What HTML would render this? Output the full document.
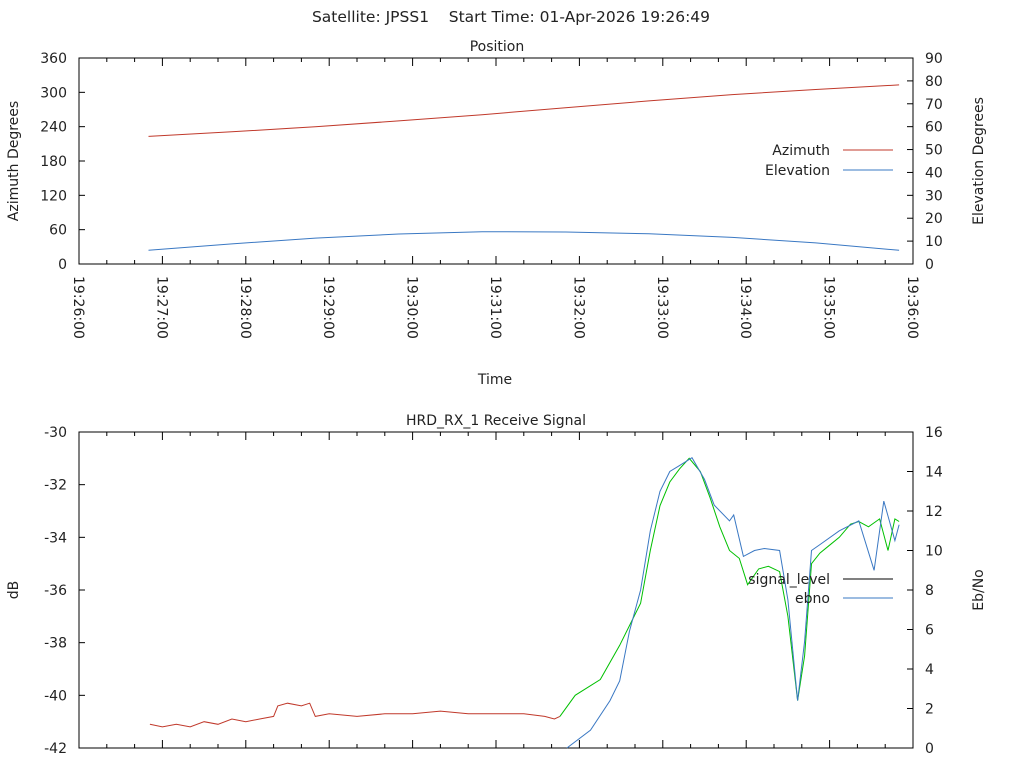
<!DOCTYPE html>
<html><head><meta charset="utf-8"><style>
html,body{margin:0;padding:0;background:#fff;}
svg{display:block;font-family:"DejaVu Sans","Liberation Sans",sans-serif;font-size:14px;fill:#222;}
</style></head><body>
<svg id="c" width="1024" height="768" viewBox="0 0 1024 768">
<text x="511" y="22" text-anchor="middle" style="font-size:15.5px" xml:space="preserve">Satellite: JPSS1    Start Time: 01-Apr-2026 19:26:49</text>
<text x="497" y="51" text-anchor="middle">Position</text>
<text x="496" y="425" text-anchor="middle">HRD_RX_1 Receive Signal</text>
<text x="495" y="384" text-anchor="middle">Time</text>
<text transform="translate(18,161) rotate(-90)" text-anchor="middle">Azimuth Degrees</text>
<text transform="translate(983,161) rotate(-90)" text-anchor="middle">Elevation Degrees</text>
<text transform="translate(18,590) rotate(-90)" text-anchor="middle">dB</text>
<text transform="translate(983,590) rotate(-90)" text-anchor="middle">Eb/No</text>
<g id="g"></g>
</svg>
<script>
const xTickLabels=["19:26:00","19:27:00","19:28:00","19:29:00","19:30:00","19:31:00","19:32:00","19:33:00","19:34:00","19:35:00","19:36:00"];
const azTicks=[0,60,120,180,240,300,360];
const elTicks=[0,10,20,30,40,50,60,70,80,90];
const dbTicks=[-42,-40,-38,-36,-34,-32,-30];
const ebTicks=[0,2,4,6,8,10,12,14,16];
// seconds after 19:26:00
const posTime=[50,110,170,230,290,350,410,470,530,590];
const azimuth=[223,231,240,250,261,273,285,296,305,313];
const elevation=[6,8.8,11.3,13.1,14.1,14.0,13.2,11.6,9.2,6];
const sigTime=[51,60,70,80,90,100,110,120,130,140,143,150,160,166,170,180,200,220,240,260,280,300,320,335,342,346,357,375,389,404,411,418,425,432,439,447,454,461,468,475,481,489,496,504,510,517,522,527,533,540,547,555,561,568,576,582,587,590];
const sigLevel=[-41.1,-41.2,-41.1,-41.2,-41.0,-41.1,-40.9,-41.0,-40.9,-40.8,-40.4,-40.3,-40.4,-40.3,-40.8,-40.7,-40.8,-40.7,-40.7,-40.6,-40.7,-40.7,-40.7,-40.8,-40.9,-40.8,-40.0,-39.4,-38.1,-36.5,-34.5,-32.8,-31.9,-31.4,-31.0,-31.5,-32.5,-33.6,-34.5,-34.8,-35.8,-35.2,-35.1,-35.3,-37.0,-40.2,-38.5,-35.0,-34.6,-34.3,-34.0,-33.5,-33.4,-33.6,-33.3,-34.5,-33.3,-33.4];
const lockTime=346;
const ebTime=[351,368,382,389,396,404,411,418,425,432,441,450,457,468,471,478,486,493,504,510,517,522,527,533,547,561,572,579,587,590];
const ebno=[0,0.9,2.4,3.4,5.9,8,11,13,14,14.3,14.7,13.6,12.3,11.5,11.8,9.7,10,10.1,10,7.5,2.4,5.4,10,10.3,11,11.5,9,12.5,10.5,11.3];

const NS="http://www.w3.org/2000/svg";
const g=document.getElementById('g');
function mk(t,a,p){const e=document.createElementNS(NS,t);for(const k in a)e.setAttribute(k,a[k]);(p||g).appendChild(e);return e;}
const X0=79,X1=913;
const xs=s=>X0+s/600*(X1-X0);
function panel(top,bot,lT,rT,lmin,lmax,rmin,rmax,name,labels){
  const yl=v=>bot-(v-lmin)/(lmax-lmin)*(bot-top);
  const yr=v=>bot-(v-rmin)/(rmax-rmin)*(bot-top);
  let f=mk('rect',{x:X0,y:top,width:X1-X0,height:bot-top,fill:'none',stroke:'#000','stroke-width':1});
  
  lT.forEach(v=>{const y=yl(v);mk('line',{x1:X0,x2:X0+6,y1:y,y2:y,stroke:'#000'});
    let t=mk('text',{x:X0-12,y:y+5,'text-anchor':'end'});t.textContent=v;
    });
  rT.forEach(v=>{const y=yr(v);mk('line',{x1:X1-6,x2:X1,y1:y,y2:y,stroke:'#000'});
    let t=mk('text',{x:X1+12,y:y+5,'text-anchor':'start'});t.textContent=v;
    });
  for(let i=0;i<=30;i++){const x=xs(i*20),len=i%3==0?8:4;
    mk('line',{x1:x,x2:x,y1:bot,y2:bot-len,stroke:'#000'});mk('line',{x1:x,x2:x,y1:top,y2:top+len,stroke:'#000'});}
  if(labels) xTickLabels.forEach((l,i)=>{const x=xs(i*60);
    let t=mk('text',{transform:`translate(${x-5},${bot+12}) rotate(90)`,'text-anchor':'start'});t.textContent=l;
    });
  return [yl,yr];
}
function line(ts,vs,sc,col,name,clipTop,clipBot){
  const p=ts.map((t,i)=>xs(t).toFixed(1)+','+Math.min(clipBot,sc(vs[i])).toFixed(1)).join(' ');
  let e=mk('polyline',{points:p,fill:'none',stroke:col,'stroke-width':1});
  
}
const [ya,ye]=panel(58,264,azTicks,elTicks,0,360,0,90,'position',true);
line(posTime,azimuth,ya,'#c0392b','azimuth-line',58,264);
line(posTime,elevation,ye,'#3a78c3','elevation-line',58,264);
const [yd,yb]=panel(432,748,dbTicks,ebTicks,-42,-30,0,16,'signal',false);
const li=sigTime.findIndex(t=>t>=lockTime);
line(sigTime.slice(0,li+1),sigLevel.slice(0,li+1),yd,'#c0392b','signal-level-unlocked',432,748);
line(sigTime.slice(li),sigLevel.slice(li),yd,'#00c000','signal-level-locked',432,748);
line(ebTime,ebno,yb,'#3a78c3','ebno-line',432,748);
function legend(y,label,col,name){
  let t=mk('text',{x:830,y:y+5,'text-anchor':'end'});t.textContent=label;
  
  let l=mk('line',{x1:843,x2:893,y1:y,y2:y,stroke:col});
  
}
legend(150,'Azimuth','#c0392b','azimuth');
legend(170,'Elevation','#3a78c3','elevation');
legend(579,'signal_level','#000','signal-level');
legend(598,'ebno','#3a78c3','ebno');
</script>
</body></html>
